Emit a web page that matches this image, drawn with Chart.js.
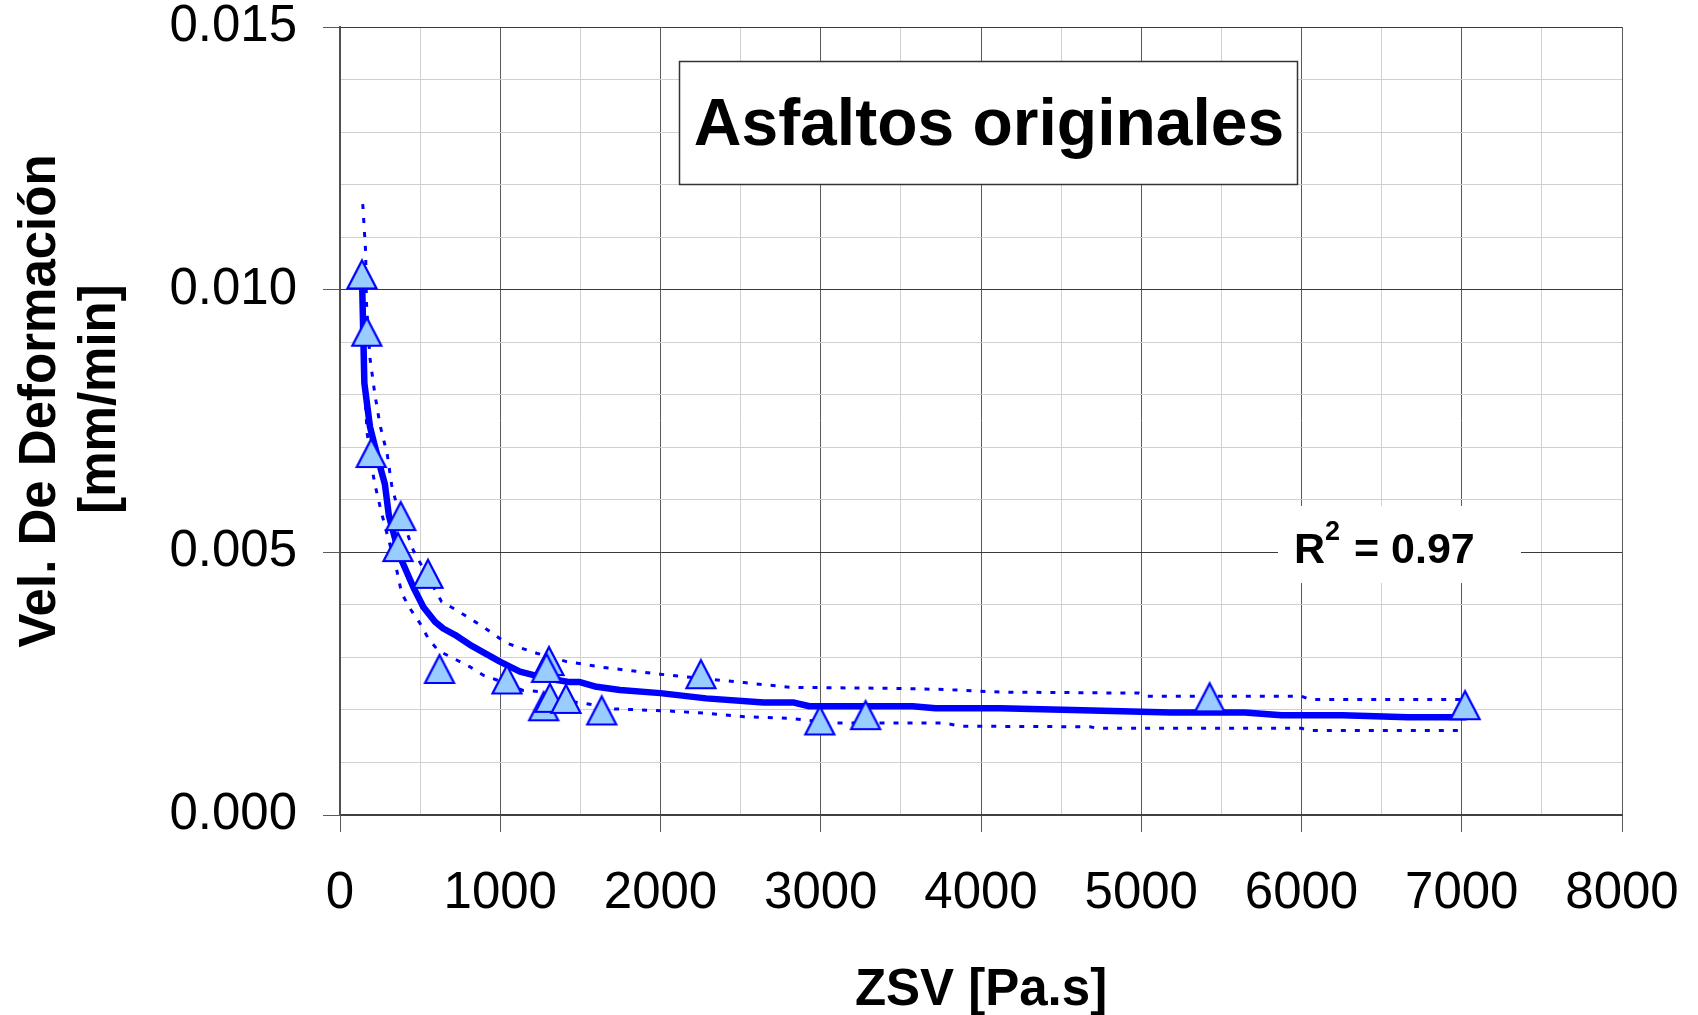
<!DOCTYPE html>
<html>
<head>
<meta charset="utf-8">
<script src="https://cdn.jsdelivr.net/npm/chart.js@4.4.1/dist/chart.umd.min.js"></script>
<style>
  html, body { margin: 0; padding: 0; background: #fff; }
  #wrap { width: 1698px; height: 1015px; }
</style>
</head>
<body>
<div id="wrap"><canvas id="c" width="1698" height="1015"></canvas></div>
<script>
// ---- Data ----
const chartTitle = 'Asfaltos originales';
const xAxisTitle = 'ZSV [Pa.s]';
const yAxisTitle = ['Vel. De Deformación', '[mm/min]'];
const r2Text = '0.97';

// measured points (triangles)
const zsv = [137, 167, 195, 379, 362, 549, 621, 1042, 1304, 1289, 1271, 1310, 1410, 1633, 2252, 2994, 3280, 5427, 7021];
const vel = [0.01029, 0.00920, 0.00689, 0.00569, 0.00510, 0.00459, 0.00278, 0.00258, 0.00293, 0.00280, 0.00207, 0.00223, 0.00221, 0.00199, 0.00268, 0.00180, 0.00190, 0.00224, 0.00209];

// fitted curve (thick line)
const fitX = [139, 152, 187, 239, 280, 305, 374, 457, 520, 593, 644, 717, 811, 998, 1123, 1227, 1352, 1435, 1497, 1601, 1747, 1998, 2285, 2643, 2833, 2929, 3573, 3717, 4117, 4573, 5184, 5646, 5876, 6257, 6662, 7021];
const fitY = [0.01000, 0.00822, 0.00739, 0.00676, 0.00630, 0.00570, 0.00492, 0.00434, 0.00396, 0.00368, 0.00355, 0.00343, 0.00324, 0.00292, 0.00273, 0.00265, 0.00257, 0.00253, 0.00253, 0.00244, 0.00238, 0.00232, 0.00222, 0.00214, 0.00214, 0.00207, 0.00207, 0.00203, 0.00203, 0.00200, 0.00195, 0.00195, 0.00190, 0.00190, 0.00186, 0.00186];

// upper confidence band (dotted)
const upX = [142, 160, 165, 187, 218, 250, 295, 322, 343, 457, 634, 727, 894, 1040, 1227, 1414, 1643, 1998, 2189, 2523, 2810, 3478, 3764, 4117, 4983, 5034, 6001, 6051, 6993];
const upY = [0.01163, 0.01072, 0.00975, 0.00870, 0.00800, 0.00742, 0.00686, 0.00629, 0.00603, 0.00504, 0.00406, 0.00390, 0.00358, 0.00327, 0.00308, 0.00292, 0.00281, 0.00268, 0.00262, 0.00252, 0.00243, 0.00241, 0.00239, 0.00234, 0.00232, 0.00226, 0.00226, 0.00220, 0.00220];

// lower confidence band (dotted)
const loX = [143, 170, 201, 218, 260, 354, 385, 437, 499, 551, 613, 728, 811, 894, 978, 1143, 1248, 1352, 1520, 1711, 2046, 2284, 2523, 2810, 3072, 3764, 3884, 4679, 4729, 6001, 6051, 6993];
const loY = [0.00860, 0.00726, 0.00658, 0.00629, 0.00574, 0.00466, 0.00422, 0.00393, 0.00365, 0.00336, 0.00313, 0.00295, 0.00282, 0.00266, 0.00257, 0.00237, 0.00235, 0.00219, 0.00213, 0.00202, 0.00198, 0.00194, 0.00187, 0.00184, 0.00175, 0.00175, 0.00169, 0.00168, 0.00165, 0.00165, 0.00161, 0.00161];

// tick labels
const xTickValues = [0, 1000, 2000, 3000, 4000, 5000, 6000, 7000, 8000];
const xTickLabels = ['0', '1000', '2000', '3000', '4000', '5000', '6000', '7000', '8000'];
const yTickValues = [0, 0.005, 0.010, 0.015];
const yTickLabels = ['0.000', '0.005', '0.010', '0.015'];

// ---- helpers ----
const pts = (xs, ys) => xs.map((x, i) => ({ x: x, y: ys[i] }));
const FONT = '"Liberation Sans", Arial, Helvetica, sans-serif';

function majorIndex(values, v) {
  const tol = (values[values.length - 1] - values[0]) * 1e-6;
  return values.findIndex(t => Math.abs(t - v) < tol);
}

// Excel-like triangle marker (bounding box centred on the point)
function makeTriangle() {
  const c = document.createElement('canvas');
  c.width = 34; c.height = 34;
  const g = c.getContext('2d');
  g.beginPath();
  g.moveTo(17, 3);
  g.lineTo(31.5, 31);
  g.lineTo(2.5, 31);
  g.closePath();
  g.fillStyle = '#99CCFF';
  g.fill();
  g.lineWidth = 2.2;
  g.lineJoin = 'miter';
  g.strokeStyle = '#0000FF';
  g.stroke();
  return c;
}
const tri = makeTriangle();

const annotations = {
  id: 'annotations',
  afterDraw(chart) {
    const ctx = chart.ctx;
    ctx.save();
    // title box
    ctx.fillStyle = '#ffffff';
    ctx.fillRect(679, 61, 619, 124);
    ctx.strokeStyle = '#333333';
    ctx.lineWidth = 1.5;
    ctx.strokeRect(679.5, 61.5, 618, 123);
    ctx.fillStyle = '#000000';
    ctx.textAlign = 'center';
    ctx.textBaseline = 'alphabetic';
    ctx.font = 'bold 66px ' + FONT;
    ctx.fillText(chartTitle, 989, 145);

    // R² label on white background
    ctx.fillStyle = '#ffffff';
    ctx.fillRect(1278, 506, 243, 77);
    ctx.fillStyle = '#000000';
    ctx.textAlign = 'left';
    ctx.font = 'bold 43px ' + FONT;
    ctx.fillText('R', 1294, 563);
    ctx.font = 'bold 27px ' + FONT;
    ctx.fillText('2', 1325, 540);
    ctx.font = 'bold 43px ' + FONT;
    ctx.fillText('= ' + r2Text, 1354, 563);

    // x axis title
    ctx.textAlign = 'center';
    ctx.font = 'bold 51px ' + FONT;
    ctx.fillText(xAxisTitle, 981, 1005);

    // y axis title (two rotated lines)
    ctx.save();
    ctx.translate(55, 401);
    ctx.rotate(-Math.PI / 2);
    ctx.font = 'bold 51px ' + FONT;
    ctx.fillText(yAxisTitle[0], 0, 0);
    ctx.restore();
    ctx.save();
    ctx.translate(115, 399);
    ctx.rotate(-Math.PI / 2);
    ctx.font = 'bold 51px ' + FONT;
    ctx.fillText(yAxisTitle[1], 0, 0);
    ctx.restore();

    ctx.restore();
  }
};

new Chart(document.getElementById('c'), {
  type: 'scatter',
  data: {
    datasets: [
      {
        label: 'Datos',
        data: pts(zsv, vel),
        showLine: false,
        pointStyle: tri,
        pointRadius: 17,
        pointHoverRadius: 17
      },
      {
        label: 'Ajuste',
        data: pts(fitX, fitY),
        showLine: true,
        borderColor: '#0000FF',
        borderWidth: 6.5,
        borderJoinStyle: 'round',
        borderCapStyle: 'round',
        pointRadius: 0,
        tension: 0,
        fill: false
      },
      {
        label: 'Superior',
        data: pts(upX, upY),
        showLine: true,
        borderColor: '#0000FF',
        borderWidth: 3,
        borderDash: [5, 9],
        borderCapStyle: 'butt',
        pointRadius: 0,
        tension: 0,
        fill: false
      },
      {
        label: 'Inferior',
        data: pts(loX, loY),
        showLine: true,
        borderColor: '#0000FF',
        borderWidth: 3,
        borderDash: [5, 9],
        borderCapStyle: 'butt',
        pointRadius: 0,
        tension: 0,
        fill: false
      }
    ]
  },
  options: {
    responsive: false,
    devicePixelRatio: 1,
    animation: false,
    layout: { padding: { left: 0, right: 76, top: 27, bottom: 0 } },
    plugins: {
      legend: { display: false },
      tooltip: { enabled: false },
      title: { display: false }
    },
    scales: {
      x: {
        type: 'linear',
        min: 0,
        max: 8000,
        afterFit: (s) => { s.height = 200; s.paddingLeft = 0; s.paddingRight = 0; },
        ticks: {
          stepSize: 500,
          autoSkip: false,
          maxRotation: 0,
          padding: 36,
          color: '#000',
          font: { family: FONT, size: 51, lineHeight: 1 },
          callback: (v) => { const i = majorIndex(xTickValues, v); return i >= 0 ? xTickLabels[i] : ''; }
        },
        grid: {
          color: (c) => majorIndex(xTickValues, c.tick.value) >= 0 ? '#5a5a5a' : '#d0d0d0',
          lineWidth: 1,
          tickLength: 17,
          tickColor: (c) => majorIndex(xTickValues, c.tick.value) >= 0 ? '#5a5a5a' : 'rgba(0,0,0,0)'
        },
        border: { display: true, color: '#404040', width: 2 }
      },
      y: {
        type: 'linear',
        min: 0,
        max: 0.015,
        afterFit: (s) => { s.width = 340; s.paddingTop = 0; s.paddingBottom = 0; },
        ticks: {
          stepSize: 0.001,
          autoSkip: false,
          padding: 26,
          color: '#000',
          font: { family: FONT, size: 51, lineHeight: 1 },
          callback: (v) => { const i = majorIndex(yTickValues, v); return i >= 0 ? yTickLabels[i] : ''; }
        },
        grid: {
          color: (c) => majorIndex(yTickValues, c.tick.value) >= 0 ? '#3a3a3a' : '#d0d0d0',
          lineWidth: 1,
          tickLength: 17,
          tickColor: (c) => majorIndex(yTickValues, c.tick.value) >= 0 ? '#5a5a5a' : 'rgba(0,0,0,0)'
        },
        border: { display: true, color: '#505050', width: 2 }
      }
    }
  },
  plugins: [annotations]
});
</script>
</body>
</html>
